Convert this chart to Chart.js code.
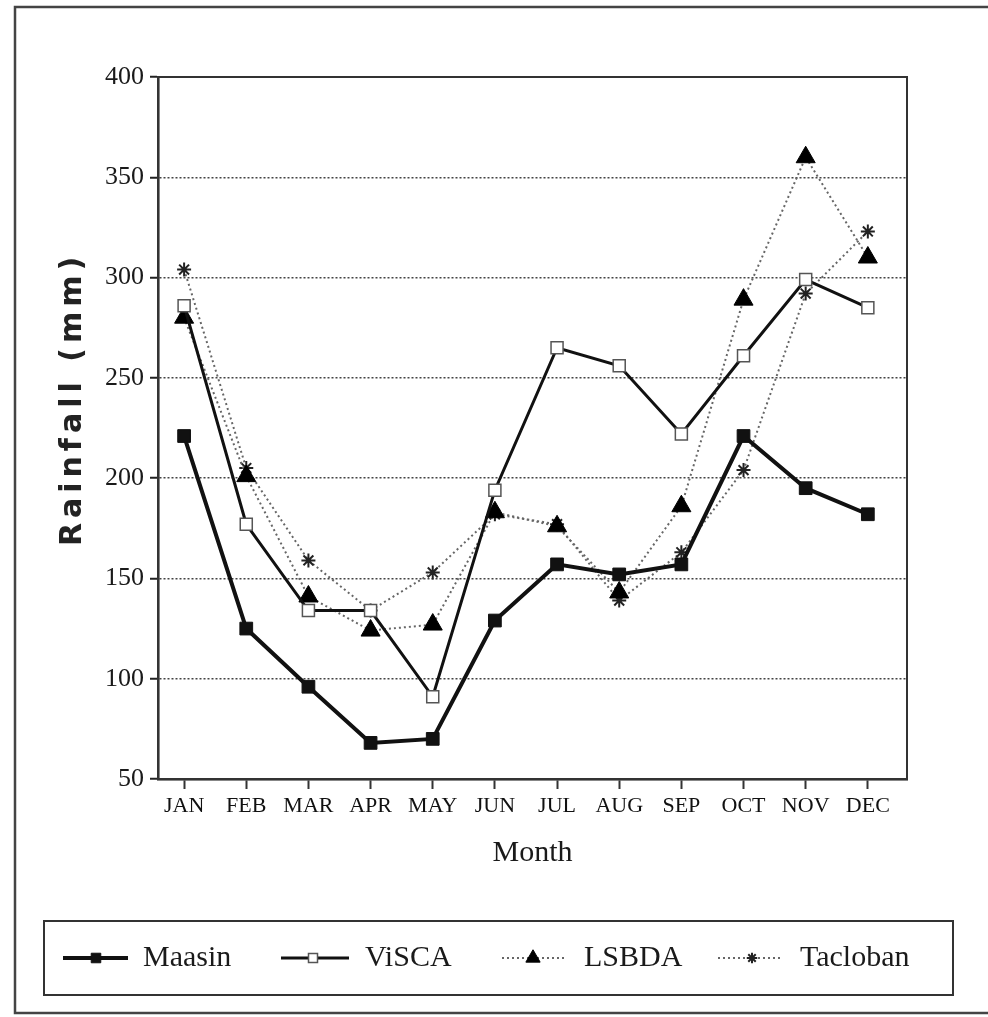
<!DOCTYPE html>
<html>
<head>
<meta charset="utf-8">
<script src="https://cdn.jsdelivr.net/npm/chart.js@4.4.1/dist/chart.umd.min.js"></script>
<style>
  html, body { margin: 0; padding: 0; background: #fff; }
  #wrap { position: relative; width: 988px; height: 1017px; }
</style>
</head>
<body>
<div id="wrap"><canvas id="c" width="988" height="1017"></canvas></div>
<script>
// ---- data ----
const months   = ['JAN','FEB','MAR','APR','MAY','JUN','JUL','AUG','SEP','OCT','NOV','DEC'];
const maasin   = [221, 125, 96, 68, 70, 129, 157, 152, 157, 221, 195, 182];
const visca    = [286, 177, 134, 134, 91, 194, 265, 256, 222, 261, 299, 285];
const lsbda    = [280, 201, 141, 124, 127, 183, 176, 143, 186, 289, 360, 310];
const tacloban = [304, 205, 159, 134, 153, 182, 177, 139, 163, 204, 292, 323];
const yTicks   = [50, 100, 150, 200, 250, 300, 350, 400];
const seriesNames = ['Maasin', 'ViSCA', 'LSBDA', 'Tacloban'];
const yTitle = 'Rainfall (mm)';
const xTitle = 'Month';

const toXY = arr => arr.map((v, i) => ({ x: i, y: v }));
const SERIF = "'Liberation Serif', 'DejaVu Serif', serif";

const styles = [
  { borderColor: '#111', borderWidth: 4, borderDash: [], pointStyle: 'rect', pointRadius: 9,
    pointBackgroundColor: '#111', pointBorderColor: '#111', pointBorderWidth: 1 },
  { borderColor: '#111', borderWidth: 3, borderDash: [], pointStyle: 'rect', pointRadius: 8.5,
    pointBackgroundColor: '#fff', pointBorderColor: '#555', pointBorderWidth: 1.5 },
  { borderColor: '#666', borderWidth: 2, borderDash: [2, 3], pointStyle: 'triangle', pointRadius: 11,
    pointBackgroundColor: '#000', pointBorderColor: '#000', pointBorderWidth: 1 },
  { borderColor: '#666', borderWidth: 2, borderDash: [2, 3], pointStyle: 'star', pointRadius: 7,
    pointBackgroundColor: '#222', pointBorderColor: '#222', pointBorderWidth: 2 }
];
const seriesData = [maasin, visca, lsbda, tacloban];

const framePlugin = {
  id: 'frame',
  beforeDatasetsDraw(chart) {
    const { ctx, chartArea: a } = chart;
    ctx.save();
    ctx.strokeStyle = '#444';
    ctx.lineWidth = 2.5;
    ctx.strokeRect(15, 7, 980, 1006);
    ctx.strokeStyle = '#333';
    ctx.lineWidth = 2;
    ctx.strokeRect(a.left, a.top, a.right - a.left, a.bottom - a.top);
    ctx.restore();
  },
  afterDraw(chart) {
    const ctx = chart.ctx;
    ctx.save();
    ctx.translate(73, 399);
    ctx.rotate(-Math.PI / 2);
    ctx.font = "bold 30px 'DejaVu Sans', 'Liberation Sans', sans-serif";
    ctx.letterSpacing = '5px';
    ctx.fillStyle = '#222';
    ctx.textAlign = 'center';
    ctx.textBaseline = 'middle';
    ctx.fillText(yTitle, 0, 0);
    ctx.restore();

    ctx.save();
    ctx.strokeStyle = '#333';
    ctx.lineWidth = 2;
    ctx.strokeRect(44, 921, 909, 74);
    const cy = 958;
    const items = [
      { x0: 63,  x1: 128, mx: 96,  tx: 143 },
      { x0: 281, x1: 349, mx: 313, tx: 365 },
      { x0: 502, x1: 566, mx: 533, tx: 584 },
      { x0: 718, x1: 783, mx: 752, tx: 800 }
    ];
    items.forEach((it, i) => {
      const st = styles[i];
      ctx.save();
      ctx.strokeStyle = st.borderColor;
      ctx.lineWidth = st.borderWidth;
      ctx.setLineDash(st.borderDash);
      ctx.beginPath();
      ctx.moveTo(it.x0, cy);
      ctx.lineTo(it.x1, cy);
      ctx.stroke();
      ctx.setLineDash([]);
      ctx.fillStyle = st.pointBackgroundColor;
      ctx.strokeStyle = st.pointBorderColor;
      ctx.lineWidth = st.pointBorderWidth;
      Chart.helpers.drawPoint(ctx, {
        pointStyle: st.pointStyle,
        radius: st.pointRadius * 0.75,
        rotation: 0,
        borderWidth: st.pointBorderWidth
      }, it.mx, cy);
      ctx.restore();
      ctx.fillStyle = '#1a1a1a';
      ctx.font = '30px ' + SERIF;
      ctx.textAlign = 'left';
      ctx.textBaseline = 'middle';
      ctx.fillText(seriesNames[i], it.tx, cy);
    });
    ctx.restore();
  }
};

new Chart(document.getElementById('c'), {
  type: 'line',
  data: {
    datasets: seriesNames.map((name, i) => Object.assign({
      label: name,
      data: toXY(seriesData[i]),
      tension: 0,
      fill: false
    }, styles[i]))
  },
  options: {
    responsive: false,
    animation: false,
    devicePixelRatio: 1,
    layout: { padding: { left: 0, top: 77, right: 81, bottom: 142 } },
    plugins: { legend: { display: false }, tooltip: { enabled: false } },
    scales: {
      x: {
        type: 'linear',
        min: -0.42,
        max: 11.63,
        afterBuildTicks: s => { s.ticks = months.map((m, i) => ({ value: i })); },
        afterFit: s => { s.height = 96; },
        ticks: {
          callback: v => months[v],
          autoSkip: false,
          maxRotation: 0,
          color: '#111',
          padding: 4,
          font: { family: SERIF, size: 22 }
        },
        grid: { drawOnChartArea: false, drawTicks: true, tickLength: 10, tickColor: '#333', tickWidth: 2 },
        border: { display: true, color: '#111', width: 2.5 },
        title: {
          display: true, text: xTitle, color: '#1a1a1a',
          font: { family: SERIF, size: 30 },
          padding: { top: 4, bottom: 4 }
        }
      },
      y: {
        min: 50,
        max: 400,
        afterBuildTicks: s => { s.ticks = yTicks.map(v => ({ value: v })); },
        afterFit: s => { s.width = 158; },
        ticks: {
          color: '#1a1a1a',
          padding: 6,
          font: { family: SERIF, size: 26 }
        },
        grid: { color: '#444', lineWidth: 1.5, tickLength: 8, tickColor: '#222', tickWidth: 2, tickBorderDash: [] },
        border: { display: true, color: '#111', width: 2.5, dash: [2, 2] }
      }
    }
  },
  plugins: [framePlugin]
});
</script>
</body>
</html>
